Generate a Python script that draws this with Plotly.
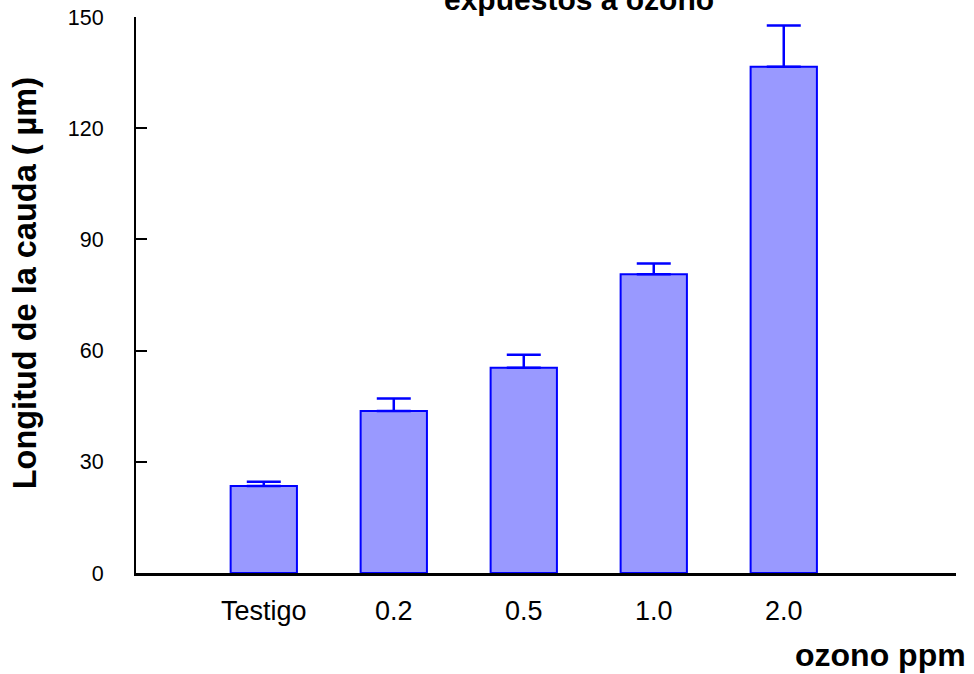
import plotly.graph_objects as go

categories = ["Testigo", "0.2", "0.5", "1.0", "2.0"]
tail_length = [23.5, 43.7, 55.4, 80.6, 136.6]
error_up = [1.1, 3.4, 3.5, 2.9, 11.1]
y_ticks = [0, 30, 60, 90, 120, 150]

FONT = "Arial, Liberation Sans, sans-serif"

fig = go.Figure()
fig.add_trace(go.Bar(
    x=categories,
    y=tail_length,
    width=0.51,
    marker=dict(color="#9999FF", line=dict(color="#0000FF", width=2)),
    error_y=dict(type="data", symmetric=False, array=error_up,
                 arrayminus=[0] * len(error_up),
                 color="#0000FF", thickness=2.5, width=17),
    showlegend=False,
))

fig.update_layout(
    width=974, height=674,
    margin=dict(l=136, r=18, t=17, b=101),
    plot_bgcolor="white", paper_bgcolor="white",
    font=dict(family=FONT, color="black"),
    xaxis=dict(
        type="category",
        range=[-0.983, 5.325],
        automargin=False,
        showline=True, linecolor="black", linewidth=2.5,
        ticks="", showgrid=False, zeroline=False,
        tickfont=dict(size=27, family=FONT),
        ticklabelstandoff=12,
    ),
    yaxis=dict(
        range=[0, 150],
        tickvals=y_ticks,
        automargin=False,
        showline=True, linecolor="black", linewidth=2,
        ticks="inside", ticklen=11, tickwidth=2, tickcolor="black",
        showgrid=False, zeroline=False,
        tickfont=dict(size=21.5, family=FONT),
        ticklabelstandoff=26,
    ),
    annotations=[
        dict(text="<b>expuestos a ozono</b>", xref="paper", yref="paper",
             x=0.540, y=0.999, xanchor="center", yanchor="bottom",
             showarrow=False, font=dict(size=30, family=FONT, color="black")),
        dict(text="<b>Longitud de la cauda ( µm)</b>", xref="paper", yref="paper",
             x=-0.1354, y=0.521, xanchor="center", yanchor="middle", textangle=-90,
             showarrow=False, font=dict(size=32.5, family=FONT, color="black")),
        dict(text="<b>ozono ppm</b>", xref="paper", yref="paper",
             x=1.0146, y=-0.147, xanchor="right", yanchor="middle",
             showarrow=False, font=dict(size=32, family=FONT, color="black")),
    ],
)

fig.write_html("out.html", config={"displayModeBar": False},
               post_script="document.body.style.margin='0';")
